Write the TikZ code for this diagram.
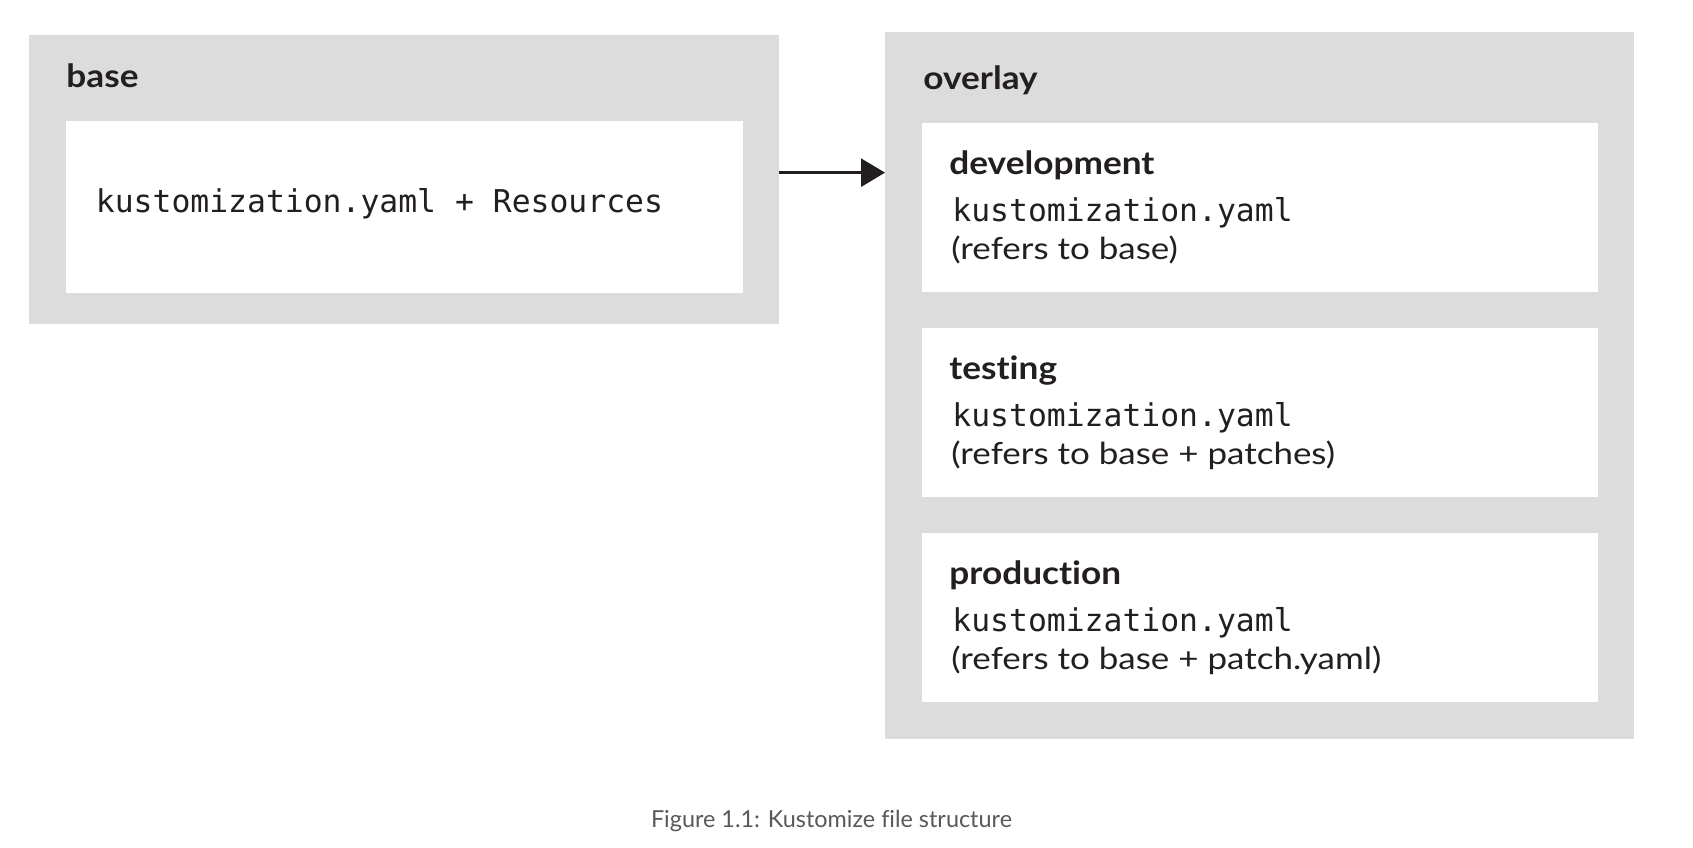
\documentclass[tikz,border=0pt]{standalone}
\usepackage{fontspec}
\usetikzlibrary{arrows.meta}
\newfontfamily\hdfont[FakeStretch=1.1,Ligatures=NoCommon]{Lato}
\newfontfamily\txfont[FakeStretch=1.15,Ligatures=NoCommon]{Lato}
\newfontfamily\capfont[Ligatures=NoCommon]{Lato}
\newfontfamily\monofont{DejaVu Sans Mono}
\definecolor{boxgray}{RGB}{220,220,220}
\definecolor{ink}{RGB}{35,31,32}
\definecolor{capgray}{RGB}{88,89,91}
\tikzset{
  outerbox/.style={fill=boxgray, draw=none, rectangle, anchor=north west, inner sep=0pt, outer sep=0pt},
  innerbox/.style={fill=white, draw=none, rectangle, anchor=north west, inner sep=0pt, outer sep=0pt},
  title/.style={anchor=base west, inner sep=0pt, text=ink, font=\hdfont\bfseries\fontsize{16}{19}\selectfont},
  codetext/.style={anchor=base west, inner sep=0pt, text=ink, font=\monofont\fontsize{15.7}{18}\selectfont},
  bodytext/.style={anchor=base west, inner sep=0pt, text=ink, font=\txfont\fontsize{15.2}{18}\selectfont},
  captext/.style={anchor=base, inner sep=0pt, text=capgray, font=\capfont\fontsize{11.7}{14}\selectfont},
  linkarrow/.style={draw=ink, line width=1.35pt, -{Triangle[length=12pt,width=14pt]}}
}
\begin{document}
\begin{tikzpicture}[x=0.5pt,y=-0.5pt]
\path[use as bounding box, fill=white] (0,0) rectangle (1693,847);
% base
\node[outerbox, minimum width=375pt, minimum height=144.75pt] (base) at (29,34.5) {};
\node[title] (basetitle) at (66,87) {base};
\node[innerbox, minimum width=338.5pt, minimum height=86.3pt] (baseinner) at (65.6,120.7) {};
\node[codetext] (basecode) at (95.5,212) {kustomization.yaml + Resources};
% overlay
\node[outerbox, minimum width=374.5pt, minimum height=353.5pt] (overlay) at (885,32) {};
\node[title] (overlaytitle) at (923,89) {overlay};
% development
\node[innerbox, minimum width=338.25pt, minimum height=84.5pt] (dev) at (921.5,123) {};
\node[title] (devtitle) at (949,174) {development};
\node[codetext] (devcode) at (952,221) {kustomization.yaml};
\node[bodytext] (devnote) at (951,259) {(refers to base)};
% testing
\node[innerbox, minimum width=338.25pt, minimum height=84.5pt] (test) at (921.5,328) {};
\node[title] (testtitle) at (949,379) {testing};
\node[codetext] (testcode) at (952,426) {kustomization.yaml};
\node[bodytext] (testnote) at (951,464) {(refers to base + patches)};
% production
\node[innerbox, minimum width=338.25pt, minimum height=84.5pt] (prod) at (921.5,533) {};
\node[title] (prodtitle) at (949,584) {production};
\node[codetext] (prodcode) at (952,631) {kustomization.yaml};
\node[bodytext] (prodnote) at (951,669) {(refers to base + patch.yaml)};
% arrow
\draw[linkarrow] ([yshift=3.3pt]base.east) -- ([yshift=3.3pt]base.east -| overlay.west);
% caption
\node[captext] (caption) at (831.5,827) {Figure 1.1: Kustomize file structure};
\end{tikzpicture}
\end{document}
